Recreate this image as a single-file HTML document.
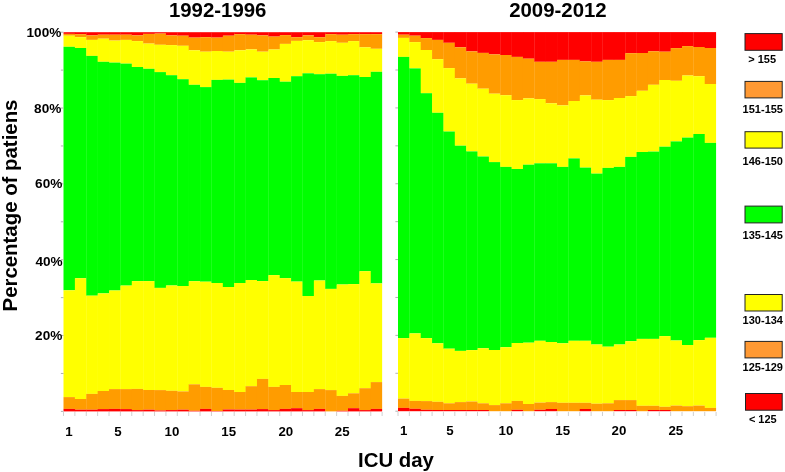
<!DOCTYPE html>
<html><head><meta charset="utf-8"><style>
html,body{margin:0;padding:0;background:#fff;}
body{width:785px;height:472px;overflow:hidden;position:relative;}
svg{position:absolute;left:0;top:0;will-change:transform;}
text{font-family:"Liberation Sans",sans-serif;font-weight:bold;fill:#000;}
</style></head><body>
<svg width="785" height="472" viewBox="0 0 785 472">
<g>
<rect x="63.50" y="32.20" width="11.68" height="1.70" fill="#ff0000"/>
<rect x="63.50" y="33.90" width="11.68" height="1.80" fill="#ff9c00"/>
<rect x="63.50" y="35.70" width="11.68" height="11.10" fill="#ffff00"/>
<rect x="63.50" y="46.80" width="11.68" height="243.50" fill="#00ff00"/>
<rect x="63.50" y="290.30" width="11.68" height="106.80" fill="#ffff00"/>
<rect x="63.50" y="397.10" width="11.68" height="11.80" fill="#ff9c00"/>
<rect x="63.50" y="408.90" width="11.68" height="2.50" fill="#ff0000"/>
<rect x="74.88" y="32.20" width="11.68" height="2.00" fill="#ff0000"/>
<rect x="74.88" y="34.20" width="11.68" height="3.00" fill="#ff9c00"/>
<rect x="74.88" y="37.20" width="11.68" height="10.80" fill="#ffff00"/>
<rect x="74.88" y="48.00" width="11.68" height="230.20" fill="#00ff00"/>
<rect x="74.88" y="278.20" width="11.68" height="120.80" fill="#ffff00"/>
<rect x="74.88" y="399.00" width="11.68" height="10.70" fill="#ff9c00"/>
<rect x="74.88" y="409.70" width="11.68" height="1.70" fill="#ff0000"/>
<rect x="86.26" y="32.20" width="11.68" height="3.20" fill="#ff0000"/>
<rect x="86.26" y="35.40" width="11.68" height="4.50" fill="#ff9c00"/>
<rect x="86.26" y="39.90" width="11.68" height="16.00" fill="#ffff00"/>
<rect x="86.26" y="55.90" width="11.68" height="239.80" fill="#00ff00"/>
<rect x="86.26" y="295.70" width="11.68" height="98.20" fill="#ffff00"/>
<rect x="86.26" y="393.90" width="11.68" height="15.80" fill="#ff9c00"/>
<rect x="86.26" y="409.70" width="11.68" height="1.70" fill="#ff0000"/>
<rect x="97.64" y="32.20" width="11.68" height="2.50" fill="#ff0000"/>
<rect x="97.64" y="34.70" width="11.68" height="4.00" fill="#ff9c00"/>
<rect x="97.64" y="38.70" width="11.68" height="23.10" fill="#ffff00"/>
<rect x="97.64" y="61.80" width="11.68" height="231.60" fill="#00ff00"/>
<rect x="97.64" y="293.40" width="11.68" height="97.60" fill="#ffff00"/>
<rect x="97.64" y="391.00" width="11.68" height="18.10" fill="#ff9c00"/>
<rect x="97.64" y="409.10" width="11.68" height="2.30" fill="#ff0000"/>
<rect x="109.02" y="32.20" width="11.68" height="2.50" fill="#ff0000"/>
<rect x="109.02" y="34.70" width="11.68" height="5.90" fill="#ff9c00"/>
<rect x="109.02" y="40.60" width="11.68" height="22.00" fill="#ffff00"/>
<rect x="109.02" y="62.60" width="11.68" height="227.90" fill="#00ff00"/>
<rect x="109.02" y="290.50" width="11.68" height="98.60" fill="#ffff00"/>
<rect x="109.02" y="389.10" width="11.68" height="19.80" fill="#ff9c00"/>
<rect x="109.02" y="408.90" width="11.68" height="2.50" fill="#ff0000"/>
<rect x="120.40" y="32.20" width="11.68" height="2.50" fill="#ff0000"/>
<rect x="120.40" y="34.70" width="11.68" height="5.20" fill="#ff9c00"/>
<rect x="120.40" y="39.90" width="11.68" height="23.70" fill="#ffff00"/>
<rect x="120.40" y="63.60" width="11.68" height="222.00" fill="#00ff00"/>
<rect x="120.40" y="285.60" width="11.68" height="103.50" fill="#ffff00"/>
<rect x="120.40" y="389.10" width="11.68" height="20.00" fill="#ff9c00"/>
<rect x="120.40" y="409.10" width="11.68" height="2.30" fill="#ff0000"/>
<rect x="131.78" y="32.20" width="11.68" height="3.20" fill="#ff0000"/>
<rect x="131.78" y="35.40" width="11.68" height="5.70" fill="#ff9c00"/>
<rect x="131.78" y="41.10" width="11.68" height="25.90" fill="#ffff00"/>
<rect x="131.78" y="67.00" width="11.68" height="214.10" fill="#00ff00"/>
<rect x="131.78" y="281.10" width="11.68" height="107.80" fill="#ffff00"/>
<rect x="131.78" y="388.90" width="11.68" height="21.20" fill="#ff9c00"/>
<rect x="131.78" y="410.10" width="11.68" height="1.30" fill="#ff0000"/>
<rect x="143.16" y="32.20" width="11.68" height="1.70" fill="#ff0000"/>
<rect x="143.16" y="33.90" width="11.68" height="9.70" fill="#ff9c00"/>
<rect x="143.16" y="43.60" width="11.68" height="25.20" fill="#ffff00"/>
<rect x="143.16" y="68.80" width="11.68" height="212.30" fill="#00ff00"/>
<rect x="143.16" y="281.10" width="11.68" height="108.90" fill="#ffff00"/>
<rect x="143.16" y="390.00" width="11.68" height="19.70" fill="#ff9c00"/>
<rect x="143.16" y="409.70" width="11.68" height="1.70" fill="#ff0000"/>
<rect x="154.54" y="32.20" width="11.68" height="1.40" fill="#ff0000"/>
<rect x="154.54" y="33.60" width="11.68" height="11.20" fill="#ff9c00"/>
<rect x="154.54" y="44.80" width="11.68" height="27.30" fill="#ffff00"/>
<rect x="154.54" y="72.10" width="11.68" height="215.80" fill="#00ff00"/>
<rect x="154.54" y="287.90" width="11.68" height="102.20" fill="#ffff00"/>
<rect x="154.54" y="390.10" width="11.68" height="20.40" fill="#ff9c00"/>
<rect x="154.54" y="410.50" width="11.68" height="0.90" fill="#ff0000"/>
<rect x="165.92" y="32.20" width="11.68" height="3.20" fill="#ff0000"/>
<rect x="165.92" y="35.40" width="11.68" height="9.70" fill="#ff9c00"/>
<rect x="165.92" y="45.10" width="11.68" height="30.10" fill="#ffff00"/>
<rect x="165.92" y="75.20" width="11.68" height="210.30" fill="#00ff00"/>
<rect x="165.92" y="285.50" width="11.68" height="105.30" fill="#ffff00"/>
<rect x="165.92" y="390.80" width="11.68" height="19.30" fill="#ff9c00"/>
<rect x="165.92" y="410.10" width="11.68" height="1.30" fill="#ff0000"/>
<rect x="177.30" y="32.20" width="11.68" height="3.50" fill="#ff0000"/>
<rect x="177.30" y="35.70" width="11.68" height="10.10" fill="#ff9c00"/>
<rect x="177.30" y="45.80" width="11.68" height="33.40" fill="#ffff00"/>
<rect x="177.30" y="79.20" width="11.68" height="206.80" fill="#00ff00"/>
<rect x="177.30" y="286.00" width="11.68" height="105.40" fill="#ffff00"/>
<rect x="177.30" y="391.40" width="11.68" height="18.30" fill="#ff9c00"/>
<rect x="177.30" y="409.70" width="11.68" height="1.70" fill="#ff0000"/>
<rect x="188.68" y="32.20" width="11.68" height="5.40" fill="#ff0000"/>
<rect x="188.68" y="37.60" width="11.68" height="12.70" fill="#ff9c00"/>
<rect x="188.68" y="50.30" width="11.68" height="34.50" fill="#ffff00"/>
<rect x="188.68" y="84.80" width="11.68" height="196.40" fill="#00ff00"/>
<rect x="188.68" y="281.20" width="11.68" height="103.10" fill="#ffff00"/>
<rect x="188.68" y="384.30" width="11.68" height="26.50" fill="#ff9c00"/>
<rect x="188.68" y="410.80" width="11.68" height="0.60" fill="#ff0000"/>
<rect x="200.06" y="32.20" width="11.68" height="5.00" fill="#ff0000"/>
<rect x="200.06" y="37.20" width="11.68" height="14.50" fill="#ff9c00"/>
<rect x="200.06" y="51.70" width="11.68" height="35.40" fill="#ffff00"/>
<rect x="200.06" y="87.10" width="11.68" height="194.60" fill="#00ff00"/>
<rect x="200.06" y="281.70" width="11.68" height="105.20" fill="#ffff00"/>
<rect x="200.06" y="386.90" width="11.68" height="22.00" fill="#ff9c00"/>
<rect x="200.06" y="408.90" width="11.68" height="2.50" fill="#ff0000"/>
<rect x="211.44" y="32.20" width="11.68" height="5.40" fill="#ff0000"/>
<rect x="211.44" y="37.60" width="11.68" height="13.40" fill="#ff9c00"/>
<rect x="211.44" y="51.00" width="11.68" height="28.90" fill="#ffff00"/>
<rect x="211.44" y="79.90" width="11.68" height="203.10" fill="#00ff00"/>
<rect x="211.44" y="283.00" width="11.68" height="104.80" fill="#ffff00"/>
<rect x="211.44" y="387.80" width="11.68" height="23.20" fill="#ff9c00"/>
<rect x="211.44" y="411.00" width="11.68" height="0.40" fill="#ff0000"/>
<rect x="222.82" y="32.20" width="11.68" height="3.50" fill="#ff0000"/>
<rect x="222.82" y="35.70" width="11.68" height="16.00" fill="#ff9c00"/>
<rect x="222.82" y="51.70" width="11.68" height="27.90" fill="#ffff00"/>
<rect x="222.82" y="79.60" width="11.68" height="207.40" fill="#00ff00"/>
<rect x="222.82" y="287.00" width="11.68" height="103.00" fill="#ffff00"/>
<rect x="222.82" y="390.00" width="11.68" height="19.50" fill="#ff9c00"/>
<rect x="222.82" y="409.50" width="11.68" height="1.90" fill="#ff0000"/>
<rect x="234.20" y="32.20" width="11.68" height="2.00" fill="#ff0000"/>
<rect x="234.20" y="34.20" width="11.68" height="16.10" fill="#ff9c00"/>
<rect x="234.20" y="50.30" width="11.68" height="32.60" fill="#ffff00"/>
<rect x="234.20" y="82.90" width="11.68" height="200.10" fill="#00ff00"/>
<rect x="234.20" y="283.00" width="11.68" height="109.00" fill="#ffff00"/>
<rect x="234.20" y="392.00" width="11.68" height="17.60" fill="#ff9c00"/>
<rect x="234.20" y="409.60" width="11.68" height="1.80" fill="#ff0000"/>
<rect x="245.58" y="32.20" width="11.68" height="2.50" fill="#ff0000"/>
<rect x="245.58" y="34.70" width="11.68" height="14.70" fill="#ff9c00"/>
<rect x="245.58" y="49.40" width="11.68" height="28.00" fill="#ffff00"/>
<rect x="245.58" y="77.40" width="11.68" height="202.60" fill="#00ff00"/>
<rect x="245.58" y="280.00" width="11.68" height="106.20" fill="#ffff00"/>
<rect x="245.58" y="386.20" width="11.68" height="23.40" fill="#ff9c00"/>
<rect x="245.58" y="409.60" width="11.68" height="1.80" fill="#ff0000"/>
<rect x="256.96" y="32.20" width="11.68" height="3.20" fill="#ff0000"/>
<rect x="256.96" y="35.40" width="11.68" height="16.30" fill="#ff9c00"/>
<rect x="256.96" y="51.70" width="11.68" height="28.50" fill="#ffff00"/>
<rect x="256.96" y="80.20" width="11.68" height="200.90" fill="#00ff00"/>
<rect x="256.96" y="281.10" width="11.68" height="97.80" fill="#ffff00"/>
<rect x="256.96" y="378.90" width="11.68" height="30.20" fill="#ff9c00"/>
<rect x="256.96" y="409.10" width="11.68" height="2.30" fill="#ff0000"/>
<rect x="268.34" y="32.20" width="11.68" height="4.40" fill="#ff0000"/>
<rect x="268.34" y="36.60" width="11.68" height="12.90" fill="#ff9c00"/>
<rect x="268.34" y="49.50" width="11.68" height="28.50" fill="#ffff00"/>
<rect x="268.34" y="78.00" width="11.68" height="197.10" fill="#00ff00"/>
<rect x="268.34" y="275.10" width="11.68" height="111.80" fill="#ffff00"/>
<rect x="268.34" y="386.90" width="11.68" height="23.20" fill="#ff9c00"/>
<rect x="268.34" y="410.10" width="11.68" height="1.30" fill="#ff0000"/>
<rect x="279.72" y="32.20" width="11.68" height="2.90" fill="#ff0000"/>
<rect x="279.72" y="35.10" width="11.68" height="8.80" fill="#ff9c00"/>
<rect x="279.72" y="43.90" width="11.68" height="37.80" fill="#ffff00"/>
<rect x="279.72" y="81.70" width="11.68" height="196.40" fill="#00ff00"/>
<rect x="279.72" y="278.10" width="11.68" height="106.90" fill="#ffff00"/>
<rect x="279.72" y="385.00" width="11.68" height="23.90" fill="#ff9c00"/>
<rect x="279.72" y="408.90" width="11.68" height="2.50" fill="#ff0000"/>
<rect x="291.10" y="32.20" width="11.68" height="5.00" fill="#ff0000"/>
<rect x="291.10" y="37.20" width="11.68" height="3.70" fill="#ff9c00"/>
<rect x="291.10" y="40.90" width="11.68" height="35.30" fill="#ffff00"/>
<rect x="291.10" y="76.20" width="11.68" height="205.40" fill="#00ff00"/>
<rect x="291.10" y="281.60" width="11.68" height="110.40" fill="#ffff00"/>
<rect x="291.10" y="392.00" width="11.68" height="16.20" fill="#ff9c00"/>
<rect x="291.10" y="408.20" width="11.68" height="3.20" fill="#ff0000"/>
<rect x="302.48" y="32.20" width="11.68" height="3.20" fill="#ff0000"/>
<rect x="302.48" y="35.40" width="11.68" height="4.80" fill="#ff9c00"/>
<rect x="302.48" y="40.20" width="11.68" height="33.10" fill="#ffff00"/>
<rect x="302.48" y="73.30" width="11.68" height="222.70" fill="#00ff00"/>
<rect x="302.48" y="296.00" width="11.68" height="96.00" fill="#ffff00"/>
<rect x="302.48" y="392.00" width="11.68" height="18.10" fill="#ff9c00"/>
<rect x="302.48" y="410.10" width="11.68" height="1.30" fill="#ff0000"/>
<rect x="313.86" y="32.20" width="11.68" height="5.00" fill="#ff0000"/>
<rect x="313.86" y="37.20" width="11.68" height="4.90" fill="#ff9c00"/>
<rect x="313.86" y="42.10" width="11.68" height="32.10" fill="#ffff00"/>
<rect x="313.86" y="74.20" width="11.68" height="206.30" fill="#00ff00"/>
<rect x="313.86" y="280.50" width="11.68" height="108.60" fill="#ffff00"/>
<rect x="313.86" y="389.10" width="11.68" height="19.80" fill="#ff9c00"/>
<rect x="313.86" y="408.90" width="11.68" height="2.50" fill="#ff0000"/>
<rect x="325.24" y="32.20" width="11.68" height="2.00" fill="#ff0000"/>
<rect x="325.24" y="34.20" width="11.68" height="6.90" fill="#ff9c00"/>
<rect x="325.24" y="41.10" width="11.68" height="32.60" fill="#ffff00"/>
<rect x="325.24" y="73.70" width="11.68" height="215.20" fill="#00ff00"/>
<rect x="325.24" y="288.90" width="11.68" height="101.20" fill="#ffff00"/>
<rect x="325.24" y="390.10" width="11.68" height="21.30" fill="#ff9c00"/>
<rect x="336.62" y="32.20" width="11.68" height="2.50" fill="#ff0000"/>
<rect x="336.62" y="34.70" width="11.68" height="8.10" fill="#ff9c00"/>
<rect x="336.62" y="42.80" width="11.68" height="33.10" fill="#ffff00"/>
<rect x="336.62" y="75.90" width="11.68" height="208.60" fill="#00ff00"/>
<rect x="336.62" y="284.50" width="11.68" height="111.40" fill="#ffff00"/>
<rect x="336.62" y="395.90" width="11.68" height="14.90" fill="#ff9c00"/>
<rect x="336.62" y="410.80" width="11.68" height="0.60" fill="#ff0000"/>
<rect x="348.00" y="32.20" width="11.68" height="2.00" fill="#ff0000"/>
<rect x="348.00" y="34.20" width="11.68" height="6.90" fill="#ff9c00"/>
<rect x="348.00" y="41.10" width="11.68" height="34.10" fill="#ffff00"/>
<rect x="348.00" y="75.20" width="11.68" height="208.90" fill="#00ff00"/>
<rect x="348.00" y="284.10" width="11.68" height="109.20" fill="#ffff00"/>
<rect x="348.00" y="393.30" width="11.68" height="14.90" fill="#ff9c00"/>
<rect x="348.00" y="408.20" width="11.68" height="3.20" fill="#ff0000"/>
<rect x="359.38" y="32.20" width="11.68" height="2.00" fill="#ff0000"/>
<rect x="359.38" y="34.20" width="11.68" height="13.10" fill="#ff9c00"/>
<rect x="359.38" y="47.30" width="11.68" height="29.70" fill="#ffff00"/>
<rect x="359.38" y="77.00" width="11.68" height="194.20" fill="#00ff00"/>
<rect x="359.38" y="271.20" width="11.68" height="117.00" fill="#ffff00"/>
<rect x="359.38" y="388.20" width="11.68" height="21.90" fill="#ff9c00"/>
<rect x="359.38" y="410.10" width="11.68" height="1.30" fill="#ff0000"/>
<rect x="370.76" y="32.20" width="11.38" height="2.00" fill="#ff0000"/>
<rect x="370.76" y="34.20" width="11.38" height="14.60" fill="#ff9c00"/>
<rect x="370.76" y="48.80" width="11.38" height="23.00" fill="#ffff00"/>
<rect x="370.76" y="71.80" width="11.38" height="211.60" fill="#00ff00"/>
<rect x="370.76" y="283.40" width="11.38" height="98.70" fill="#ffff00"/>
<rect x="370.76" y="382.10" width="11.38" height="26.80" fill="#ff9c00"/>
<rect x="370.76" y="408.90" width="11.38" height="2.50" fill="#ff0000"/>
</g>
<g>
<rect x="398.00" y="32.10" width="11.66" height="2.60" fill="#ff0000"/>
<rect x="398.00" y="34.70" width="11.66" height="3.20" fill="#ff9c00"/>
<rect x="398.00" y="37.90" width="11.66" height="19.00" fill="#ffff00"/>
<rect x="398.00" y="56.90" width="11.66" height="281.20" fill="#00ff00"/>
<rect x="398.00" y="338.10" width="11.66" height="60.50" fill="#ffff00"/>
<rect x="398.00" y="398.60" width="11.66" height="9.30" fill="#ff9c00"/>
<rect x="398.00" y="407.90" width="11.66" height="3.30" fill="#ff0000"/>
<rect x="409.36" y="32.10" width="11.66" height="3.60" fill="#ff0000"/>
<rect x="409.36" y="35.70" width="11.66" height="6.40" fill="#ff9c00"/>
<rect x="409.36" y="42.10" width="11.66" height="26.30" fill="#ffff00"/>
<rect x="409.36" y="68.40" width="11.66" height="265.00" fill="#00ff00"/>
<rect x="409.36" y="333.40" width="11.66" height="67.50" fill="#ffff00"/>
<rect x="409.36" y="400.90" width="11.66" height="7.90" fill="#ff9c00"/>
<rect x="409.36" y="408.80" width="11.66" height="2.40" fill="#ff0000"/>
<rect x="420.72" y="32.10" width="11.66" height="6.00" fill="#ff0000"/>
<rect x="420.72" y="38.10" width="11.66" height="11.90" fill="#ff9c00"/>
<rect x="420.72" y="50.00" width="11.66" height="43.20" fill="#ffff00"/>
<rect x="420.72" y="93.20" width="11.66" height="244.90" fill="#00ff00"/>
<rect x="420.72" y="338.10" width="11.66" height="63.00" fill="#ffff00"/>
<rect x="420.72" y="401.10" width="11.66" height="8.70" fill="#ff9c00"/>
<rect x="420.72" y="409.80" width="11.66" height="1.40" fill="#ff0000"/>
<rect x="432.08" y="32.10" width="11.66" height="7.80" fill="#ff0000"/>
<rect x="432.08" y="39.90" width="11.66" height="19.30" fill="#ff9c00"/>
<rect x="432.08" y="59.20" width="11.66" height="53.60" fill="#ffff00"/>
<rect x="432.08" y="112.80" width="11.66" height="230.50" fill="#00ff00"/>
<rect x="432.08" y="343.30" width="11.66" height="58.50" fill="#ffff00"/>
<rect x="432.08" y="401.80" width="11.66" height="8.20" fill="#ff9c00"/>
<rect x="432.08" y="410.00" width="11.66" height="1.20" fill="#ff0000"/>
<rect x="443.44" y="32.10" width="11.66" height="10.70" fill="#ff0000"/>
<rect x="443.44" y="42.80" width="11.66" height="25.30" fill="#ff9c00"/>
<rect x="443.44" y="68.10" width="11.66" height="63.40" fill="#ffff00"/>
<rect x="443.44" y="131.50" width="11.66" height="217.20" fill="#00ff00"/>
<rect x="443.44" y="348.70" width="11.66" height="54.60" fill="#ffff00"/>
<rect x="443.44" y="403.30" width="11.66" height="6.70" fill="#ff9c00"/>
<rect x="443.44" y="410.00" width="11.66" height="1.20" fill="#ff0000"/>
<rect x="454.80" y="32.10" width="11.66" height="15.20" fill="#ff0000"/>
<rect x="454.80" y="47.30" width="11.66" height="31.10" fill="#ff9c00"/>
<rect x="454.80" y="78.40" width="11.66" height="67.30" fill="#ffff00"/>
<rect x="454.80" y="145.70" width="11.66" height="205.20" fill="#00ff00"/>
<rect x="454.80" y="350.90" width="11.66" height="51.20" fill="#ffff00"/>
<rect x="454.80" y="402.10" width="11.66" height="7.90" fill="#ff9c00"/>
<rect x="454.80" y="410.00" width="11.66" height="1.20" fill="#ff0000"/>
<rect x="466.16" y="32.10" width="11.66" height="19.30" fill="#ff0000"/>
<rect x="466.16" y="51.40" width="11.66" height="32.30" fill="#ff9c00"/>
<rect x="466.16" y="83.70" width="11.66" height="67.70" fill="#ffff00"/>
<rect x="466.16" y="151.40" width="11.66" height="198.70" fill="#00ff00"/>
<rect x="466.16" y="350.10" width="11.66" height="51.40" fill="#ffff00"/>
<rect x="466.16" y="401.50" width="11.66" height="8.50" fill="#ff9c00"/>
<rect x="466.16" y="410.00" width="11.66" height="1.20" fill="#ff0000"/>
<rect x="477.52" y="32.10" width="11.66" height="20.80" fill="#ff0000"/>
<rect x="477.52" y="52.90" width="11.66" height="35.80" fill="#ff9c00"/>
<rect x="477.52" y="88.70" width="11.66" height="67.80" fill="#ffff00"/>
<rect x="477.52" y="156.50" width="11.66" height="191.70" fill="#00ff00"/>
<rect x="477.52" y="348.20" width="11.66" height="55.10" fill="#ffff00"/>
<rect x="477.52" y="403.30" width="11.66" height="6.70" fill="#ff9c00"/>
<rect x="477.52" y="410.00" width="11.66" height="1.20" fill="#ff0000"/>
<rect x="488.88" y="32.10" width="11.66" height="22.30" fill="#ff0000"/>
<rect x="488.88" y="54.40" width="11.66" height="39.30" fill="#ff9c00"/>
<rect x="488.88" y="93.70" width="11.66" height="68.40" fill="#ffff00"/>
<rect x="488.88" y="162.10" width="11.66" height="187.90" fill="#00ff00"/>
<rect x="488.88" y="350.00" width="11.66" height="55.10" fill="#ffff00"/>
<rect x="488.88" y="405.10" width="11.66" height="6.10" fill="#ff9c00"/>
<rect x="500.24" y="32.10" width="11.66" height="22.90" fill="#ff0000"/>
<rect x="500.24" y="55.00" width="11.66" height="40.20" fill="#ff9c00"/>
<rect x="500.24" y="95.20" width="11.66" height="71.70" fill="#ffff00"/>
<rect x="500.24" y="166.90" width="11.66" height="180.30" fill="#00ff00"/>
<rect x="500.24" y="347.20" width="11.66" height="56.10" fill="#ffff00"/>
<rect x="500.24" y="403.30" width="11.66" height="7.90" fill="#ff9c00"/>
<rect x="511.60" y="32.10" width="11.66" height="24.80" fill="#ff0000"/>
<rect x="511.60" y="56.90" width="11.66" height="43.20" fill="#ff9c00"/>
<rect x="511.60" y="100.10" width="11.66" height="68.90" fill="#ffff00"/>
<rect x="511.60" y="169.00" width="11.66" height="174.00" fill="#00ff00"/>
<rect x="511.60" y="343.00" width="11.66" height="57.90" fill="#ffff00"/>
<rect x="511.60" y="400.90" width="11.66" height="8.90" fill="#ff9c00"/>
<rect x="511.60" y="409.80" width="11.66" height="1.40" fill="#ff0000"/>
<rect x="522.96" y="32.10" width="11.66" height="26.60" fill="#ff0000"/>
<rect x="522.96" y="58.70" width="11.66" height="39.70" fill="#ff9c00"/>
<rect x="522.96" y="98.40" width="11.66" height="66.30" fill="#ffff00"/>
<rect x="522.96" y="164.70" width="11.66" height="178.00" fill="#00ff00"/>
<rect x="522.96" y="342.70" width="11.66" height="61.30" fill="#ffff00"/>
<rect x="522.96" y="404.00" width="11.66" height="7.20" fill="#ff9c00"/>
<rect x="534.32" y="32.10" width="11.66" height="29.70" fill="#ff0000"/>
<rect x="534.32" y="61.80" width="11.66" height="37.30" fill="#ff9c00"/>
<rect x="534.32" y="99.10" width="11.66" height="64.20" fill="#ffff00"/>
<rect x="534.32" y="163.30" width="11.66" height="177.50" fill="#00ff00"/>
<rect x="534.32" y="340.80" width="11.66" height="61.80" fill="#ffff00"/>
<rect x="534.32" y="402.60" width="11.66" height="7.20" fill="#ff9c00"/>
<rect x="534.32" y="409.80" width="11.66" height="1.40" fill="#ff0000"/>
<rect x="545.68" y="32.10" width="11.66" height="29.70" fill="#ff0000"/>
<rect x="545.68" y="61.80" width="11.66" height="41.50" fill="#ff9c00"/>
<rect x="545.68" y="103.30" width="11.66" height="60.00" fill="#ffff00"/>
<rect x="545.68" y="163.30" width="11.66" height="178.70" fill="#00ff00"/>
<rect x="545.68" y="342.00" width="11.66" height="60.10" fill="#ffff00"/>
<rect x="545.68" y="402.10" width="11.66" height="6.90" fill="#ff9c00"/>
<rect x="545.68" y="409.00" width="11.66" height="2.20" fill="#ff0000"/>
<rect x="557.04" y="32.10" width="11.66" height="27.80" fill="#ff0000"/>
<rect x="557.04" y="59.90" width="11.66" height="45.50" fill="#ff9c00"/>
<rect x="557.04" y="105.40" width="11.66" height="61.50" fill="#ffff00"/>
<rect x="557.04" y="166.90" width="11.66" height="176.40" fill="#00ff00"/>
<rect x="557.04" y="343.30" width="11.66" height="59.50" fill="#ffff00"/>
<rect x="557.04" y="402.80" width="11.66" height="8.40" fill="#ff9c00"/>
<rect x="568.40" y="32.10" width="11.66" height="27.80" fill="#ff0000"/>
<rect x="568.40" y="59.90" width="11.66" height="41.10" fill="#ff9c00"/>
<rect x="568.40" y="101.00" width="11.66" height="57.40" fill="#ffff00"/>
<rect x="568.40" y="158.40" width="11.66" height="182.40" fill="#00ff00"/>
<rect x="568.40" y="340.80" width="11.66" height="62.00" fill="#ffff00"/>
<rect x="568.40" y="402.80" width="11.66" height="8.40" fill="#ff9c00"/>
<rect x="579.76" y="32.10" width="11.66" height="29.30" fill="#ff0000"/>
<rect x="579.76" y="61.40" width="11.66" height="34.00" fill="#ff9c00"/>
<rect x="579.76" y="95.40" width="11.66" height="72.20" fill="#ffff00"/>
<rect x="579.76" y="167.60" width="11.66" height="173.20" fill="#00ff00"/>
<rect x="579.76" y="340.80" width="11.66" height="62.00" fill="#ffff00"/>
<rect x="579.76" y="402.80" width="11.66" height="6.20" fill="#ff9c00"/>
<rect x="579.76" y="409.00" width="11.66" height="2.20" fill="#ff0000"/>
<rect x="591.12" y="32.10" width="11.66" height="29.70" fill="#ff0000"/>
<rect x="591.12" y="61.80" width="11.66" height="37.90" fill="#ff9c00"/>
<rect x="591.12" y="99.70" width="11.66" height="73.90" fill="#ffff00"/>
<rect x="591.12" y="173.60" width="11.66" height="170.90" fill="#00ff00"/>
<rect x="591.12" y="344.50" width="11.66" height="59.20" fill="#ffff00"/>
<rect x="591.12" y="403.70" width="11.66" height="7.50" fill="#ff9c00"/>
<rect x="602.48" y="32.10" width="11.66" height="27.80" fill="#ff0000"/>
<rect x="602.48" y="59.90" width="11.66" height="40.20" fill="#ff9c00"/>
<rect x="602.48" y="100.10" width="11.66" height="67.80" fill="#ffff00"/>
<rect x="602.48" y="167.90" width="11.66" height="178.80" fill="#00ff00"/>
<rect x="602.48" y="346.70" width="11.66" height="56.60" fill="#ffff00"/>
<rect x="602.48" y="403.30" width="11.66" height="7.90" fill="#ff9c00"/>
<rect x="613.84" y="32.10" width="11.66" height="27.80" fill="#ff0000"/>
<rect x="613.84" y="59.90" width="11.66" height="38.10" fill="#ff9c00"/>
<rect x="613.84" y="98.00" width="11.66" height="68.90" fill="#ffff00"/>
<rect x="613.84" y="166.90" width="11.66" height="177.60" fill="#00ff00"/>
<rect x="613.84" y="344.50" width="11.66" height="55.60" fill="#ffff00"/>
<rect x="613.84" y="400.10" width="11.66" height="9.90" fill="#ff9c00"/>
<rect x="613.84" y="410.00" width="11.66" height="1.20" fill="#ff0000"/>
<rect x="625.20" y="32.10" width="11.66" height="21.10" fill="#ff0000"/>
<rect x="625.20" y="53.20" width="11.66" height="42.90" fill="#ff9c00"/>
<rect x="625.20" y="96.10" width="11.66" height="60.80" fill="#ffff00"/>
<rect x="625.20" y="156.90" width="11.66" height="184.30" fill="#00ff00"/>
<rect x="625.20" y="341.20" width="11.66" height="58.90" fill="#ffff00"/>
<rect x="625.20" y="400.10" width="11.66" height="9.90" fill="#ff9c00"/>
<rect x="625.20" y="410.00" width="11.66" height="1.20" fill="#ff0000"/>
<rect x="636.56" y="32.10" width="11.66" height="20.90" fill="#ff0000"/>
<rect x="636.56" y="53.00" width="11.66" height="37.80" fill="#ff9c00"/>
<rect x="636.56" y="90.80" width="11.66" height="61.20" fill="#ffff00"/>
<rect x="636.56" y="152.00" width="11.66" height="186.90" fill="#00ff00"/>
<rect x="636.56" y="338.90" width="11.66" height="66.90" fill="#ffff00"/>
<rect x="636.56" y="405.80" width="11.66" height="5.40" fill="#ff9c00"/>
<rect x="647.92" y="32.10" width="11.66" height="19.20" fill="#ff0000"/>
<rect x="647.92" y="51.30" width="11.66" height="33.50" fill="#ff9c00"/>
<rect x="647.92" y="84.80" width="11.66" height="66.80" fill="#ffff00"/>
<rect x="647.92" y="151.60" width="11.66" height="187.30" fill="#00ff00"/>
<rect x="647.92" y="338.90" width="11.66" height="66.90" fill="#ffff00"/>
<rect x="647.92" y="405.80" width="11.66" height="4.20" fill="#ff9c00"/>
<rect x="647.92" y="410.00" width="11.66" height="1.20" fill="#ff0000"/>
<rect x="659.28" y="32.10" width="11.66" height="19.60" fill="#ff0000"/>
<rect x="659.28" y="51.70" width="11.66" height="28.30" fill="#ff9c00"/>
<rect x="659.28" y="80.00" width="11.66" height="66.70" fill="#ffff00"/>
<rect x="659.28" y="146.70" width="11.66" height="189.40" fill="#00ff00"/>
<rect x="659.28" y="336.10" width="11.66" height="70.70" fill="#ffff00"/>
<rect x="659.28" y="406.80" width="11.66" height="3.20" fill="#ff9c00"/>
<rect x="659.28" y="410.00" width="11.66" height="1.20" fill="#ff0000"/>
<rect x="670.64" y="32.10" width="11.66" height="16.00" fill="#ff0000"/>
<rect x="670.64" y="48.10" width="11.66" height="32.70" fill="#ff9c00"/>
<rect x="670.64" y="80.80" width="11.66" height="60.60" fill="#ffff00"/>
<rect x="670.64" y="141.40" width="11.66" height="199.10" fill="#00ff00"/>
<rect x="670.64" y="340.50" width="11.66" height="65.10" fill="#ffff00"/>
<rect x="670.64" y="405.60" width="11.66" height="5.60" fill="#ff9c00"/>
<rect x="682.00" y="32.10" width="11.66" height="14.00" fill="#ff0000"/>
<rect x="682.00" y="46.10" width="11.66" height="29.40" fill="#ff9c00"/>
<rect x="682.00" y="75.50" width="11.66" height="62.10" fill="#ffff00"/>
<rect x="682.00" y="137.60" width="11.66" height="207.40" fill="#00ff00"/>
<rect x="682.00" y="345.00" width="11.66" height="61.20" fill="#ffff00"/>
<rect x="682.00" y="406.20" width="11.66" height="5.00" fill="#ff9c00"/>
<rect x="693.36" y="32.10" width="11.66" height="14.90" fill="#ff0000"/>
<rect x="693.36" y="47.00" width="11.66" height="29.20" fill="#ff9c00"/>
<rect x="693.36" y="76.20" width="11.66" height="57.80" fill="#ffff00"/>
<rect x="693.36" y="134.00" width="11.66" height="206.10" fill="#00ff00"/>
<rect x="693.36" y="340.10" width="11.66" height="65.50" fill="#ffff00"/>
<rect x="693.36" y="405.60" width="11.66" height="5.60" fill="#ff9c00"/>
<rect x="704.72" y="32.10" width="11.36" height="15.90" fill="#ff0000"/>
<rect x="704.72" y="48.00" width="11.36" height="36.00" fill="#ff9c00"/>
<rect x="704.72" y="84.00" width="11.36" height="58.90" fill="#ffff00"/>
<rect x="704.72" y="142.90" width="11.36" height="194.90" fill="#00ff00"/>
<rect x="704.72" y="337.80" width="11.36" height="70.10" fill="#ffff00"/>
<rect x="704.72" y="407.90" width="11.36" height="3.30" fill="#ff9c00"/>
</g>
<g stroke="#c4c4c4" stroke-width="0.8">
<line x1="63.50" y1="412" x2="63.50" y2="416"/>
<line x1="74.88" y1="412" x2="74.88" y2="416"/>
<line x1="86.26" y1="412" x2="86.26" y2="416"/>
<line x1="97.64" y1="412" x2="97.64" y2="416"/>
<line x1="109.02" y1="412" x2="109.02" y2="416"/>
<line x1="120.40" y1="412" x2="120.40" y2="416"/>
<line x1="131.78" y1="412" x2="131.78" y2="416"/>
<line x1="143.16" y1="412" x2="143.16" y2="416"/>
<line x1="154.54" y1="412" x2="154.54" y2="416"/>
<line x1="165.92" y1="412" x2="165.92" y2="416"/>
<line x1="177.30" y1="412" x2="177.30" y2="416"/>
<line x1="188.68" y1="412" x2="188.68" y2="416"/>
<line x1="200.06" y1="412" x2="200.06" y2="416"/>
<line x1="211.44" y1="412" x2="211.44" y2="416"/>
<line x1="222.82" y1="412" x2="222.82" y2="416"/>
<line x1="234.20" y1="412" x2="234.20" y2="416"/>
<line x1="245.58" y1="412" x2="245.58" y2="416"/>
<line x1="256.96" y1="412" x2="256.96" y2="416"/>
<line x1="268.34" y1="412" x2="268.34" y2="416"/>
<line x1="279.72" y1="412" x2="279.72" y2="416"/>
<line x1="291.10" y1="412" x2="291.10" y2="416"/>
<line x1="302.48" y1="412" x2="302.48" y2="416"/>
<line x1="313.86" y1="412" x2="313.86" y2="416"/>
<line x1="325.24" y1="412" x2="325.24" y2="416"/>
<line x1="336.62" y1="412" x2="336.62" y2="416"/>
<line x1="348.00" y1="412" x2="348.00" y2="416"/>
<line x1="359.38" y1="412" x2="359.38" y2="416"/>
<line x1="370.76" y1="412" x2="370.76" y2="416"/>
<line x1="382.14" y1="412" x2="382.14" y2="416"/>
<line x1="398.00" y1="412" x2="398.00" y2="416"/>
<line x1="409.36" y1="412" x2="409.36" y2="416"/>
<line x1="420.72" y1="412" x2="420.72" y2="416"/>
<line x1="432.08" y1="412" x2="432.08" y2="416"/>
<line x1="443.44" y1="412" x2="443.44" y2="416"/>
<line x1="454.80" y1="412" x2="454.80" y2="416"/>
<line x1="466.16" y1="412" x2="466.16" y2="416"/>
<line x1="477.52" y1="412" x2="477.52" y2="416"/>
<line x1="488.88" y1="412" x2="488.88" y2="416"/>
<line x1="500.24" y1="412" x2="500.24" y2="416"/>
<line x1="511.60" y1="412" x2="511.60" y2="416"/>
<line x1="522.96" y1="412" x2="522.96" y2="416"/>
<line x1="534.32" y1="412" x2="534.32" y2="416"/>
<line x1="545.68" y1="412" x2="545.68" y2="416"/>
<line x1="557.04" y1="412" x2="557.04" y2="416"/>
<line x1="568.40" y1="412" x2="568.40" y2="416"/>
<line x1="579.76" y1="412" x2="579.76" y2="416"/>
<line x1="591.12" y1="412" x2="591.12" y2="416"/>
<line x1="602.48" y1="412" x2="602.48" y2="416"/>
<line x1="613.84" y1="412" x2="613.84" y2="416"/>
<line x1="625.20" y1="412" x2="625.20" y2="416"/>
<line x1="636.56" y1="412" x2="636.56" y2="416"/>
<line x1="647.92" y1="412" x2="647.92" y2="416"/>
<line x1="659.28" y1="412" x2="659.28" y2="416"/>
<line x1="670.64" y1="412" x2="670.64" y2="416"/>
<line x1="682.00" y1="412" x2="682.00" y2="416"/>
<line x1="693.36" y1="412" x2="693.36" y2="416"/>
<line x1="704.72" y1="412" x2="704.72" y2="416"/>
<line x1="716.08" y1="412" x2="716.08" y2="416"/>
</g>
<g stroke="#a8a8a8" stroke-width="0.9">
<line x1="60.90" y1="411.40" x2="63.50" y2="411.40"/>
<line x1="60.90" y1="373.48" x2="63.50" y2="373.48"/>
<line x1="60.90" y1="335.56" x2="63.50" y2="335.56"/>
<line x1="60.90" y1="297.64" x2="63.50" y2="297.64"/>
<line x1="60.90" y1="259.72" x2="63.50" y2="259.72"/>
<line x1="60.90" y1="221.80" x2="63.50" y2="221.80"/>
<line x1="60.90" y1="183.88" x2="63.50" y2="183.88"/>
<line x1="60.90" y1="145.96" x2="63.50" y2="145.96"/>
<line x1="60.90" y1="108.04" x2="63.50" y2="108.04"/>
<line x1="60.90" y1="70.12" x2="63.50" y2="70.12"/>
<line x1="60.90" y1="32.20" x2="63.50" y2="32.20"/>
<line x1="395.40" y1="411.20" x2="398.00" y2="411.20"/>
<line x1="395.40" y1="373.29" x2="398.00" y2="373.29"/>
<line x1="395.40" y1="335.38" x2="398.00" y2="335.38"/>
<line x1="395.40" y1="297.47" x2="398.00" y2="297.47"/>
<line x1="395.40" y1="259.56" x2="398.00" y2="259.56"/>
<line x1="395.40" y1="221.65" x2="398.00" y2="221.65"/>
<line x1="395.40" y1="183.74" x2="398.00" y2="183.74"/>
<line x1="395.40" y1="145.83" x2="398.00" y2="145.83"/>
<line x1="395.40" y1="107.92" x2="398.00" y2="107.92"/>
<line x1="395.40" y1="70.01" x2="398.00" y2="70.01"/>
<line x1="395.40" y1="32.10" x2="398.00" y2="32.10"/>
</g>
<g font-size="20.4">
<text x="217.7" y="17.1" text-anchor="middle">1992-1996</text>
<text x="557.9" y="17.1" text-anchor="middle">2009-2012</text>
<text x="396" y="467.3" text-anchor="middle">ICU day</text>
<text transform="translate(17.2,205.5) rotate(-90)" text-anchor="middle">Percentage of patiens</text>
</g>
<g font-size="13.6" text-anchor="end">
<text x="61.3" y="36.9">100%</text>
<text x="61.3" y="112.5">80%</text>
<text x="62.3" y="188.4">60%</text>
<text x="62.6" y="265.8">40%</text>
<text x="62.3" y="340.3">20%</text>
</g>
<g font-size="13.3" text-anchor="middle">
<text x="68.9" y="436">1</text>
<text x="118.0" y="436">5</text>
<text x="172.0" y="436">10</text>
<text x="228.7" y="436">15</text>
<text x="285.8" y="436">20</text>
<text x="342.2" y="436">25</text>
<text x="403.6" y="434.8">1</text>
<text x="450.0" y="434.8">5</text>
<text x="506.0" y="434.8">10</text>
<text x="562.7" y="434.8">15</text>
<text x="618.9" y="434.8">20</text>
<text x="675.8" y="434.8">25</text>
</g>
<g stroke="#222" stroke-width="1">
<rect x="745" y="33.6" width="37.2" height="16.7" fill="#ff0000"/>
<rect x="745" y="81.4" width="37.2" height="16.5" fill="#ff9933"/>
<rect x="745" y="131.7" width="37.2" height="16.4" fill="#ffff00"/>
<rect x="745" y="206.1" width="37.2" height="16.8" fill="#00ff00"/>
<rect x="745" y="294.5" width="37.2" height="16.5" fill="#ffff00"/>
<rect x="745" y="341.4" width="37.2" height="16.5" fill="#ff9933"/>
<rect x="745.5" y="393.5" width="36.7" height="16.7" fill="#ff0000"/>
</g>
<g font-size="11" text-anchor="middle">
<text x="762.1" y="63.2">&gt; 155</text>
<text x="762.8" y="112.5">151-155</text>
<text x="762.8" y="164.6">146-150</text>
<text x="762.8" y="239.3">135-145</text>
<text x="762.8" y="323.7">130-134</text>
<text x="762.8" y="371.3">125-129</text>
<text x="762.8" y="422.9">&lt; 125</text>
</g>
</svg>
</body></html>
